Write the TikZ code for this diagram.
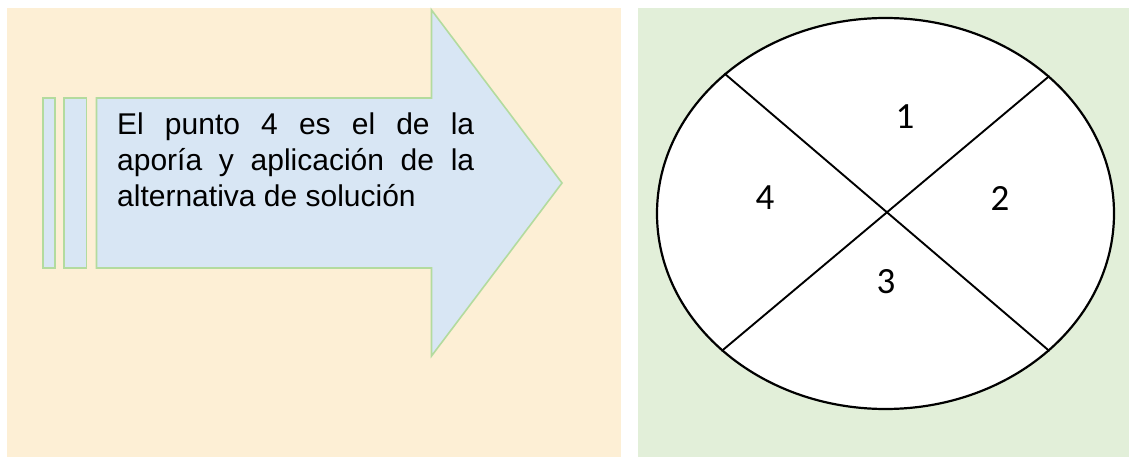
\documentclass[tikz,border=0pt]{standalone}
\usepackage{fontspec}
\setmainfont{Liberation Sans}
\newfontfamily\calib{Carlito}
\usetikzlibrary{shapes.geometric}
\definecolor{creambg}{HTML}{FDEFD5}
\definecolor{greenbg}{HTML}{E2EFD9}
\definecolor{arrowfill}{HTML}{D8E6F4}
\definecolor{arrowline}{HTML}{B3DB9E}
\tikzset{
  panel/.style={draw=none},
  arrowpart/.style={fill=arrowfill, draw=arrowline, line width=1.6pt, line join=miter},
  divline/.style={draw=black, line width=1.9pt},
  digit/.style={inner sep=0pt, font=\calib\fontsize{37}{42}\selectfont},
}
\begin{document}
\begin{tikzpicture}[x=1pt,y=-1pt]
\useasboundingbox (0,0) rectangle (1129,457);
\fill[white] (0,0) rectangle (1129,457);
% panels
\fill[creambg,panel] (7,8) rectangle (621,457);
\fill[greenbg,panel] (638,8) rectangle (1129,457);
% bars and arrow
\draw[arrowpart] (43,98) rectangle (55,268);
\draw[arrowpart] (64,98) rectangle (86.5,268);
\draw[arrowpart] (96.5,98) -- (431.5,98) -- (431.5,10) -- (562,183) -- (431.5,356) -- (431.5,268) -- (96.5,268) -- cycle;
\node[anchor=north west, inner sep=0pt, text width=357pt, align=justify,
      font=\fontsize{30}{36}\selectfont] (txt) at (117,112.5)
  {El punto 4 es el de la\linebreak aporía y aplicación de la\linebreak alternativa de solución};
% ellipse
\node[ellipse, draw=black, fill=white, line width=2.2pt, inner sep=0pt,
      minimum width=457pt, minimum height=391pt] (ell) at (885.5,213.5) {};
\draw[divline] (ell.139.5) -- (ell.-40.5);
\draw[divline] (ell.40.5) -- (ell.220.5);
\node[digit] (d1) at (905,117) {1};
\node[digit] (d2) at (1000,198) {2};
\node[digit] (d3) at (886,282) {3};
\node[digit] (d4) at (765,198) {4};
\end{tikzpicture}
\end{document}
